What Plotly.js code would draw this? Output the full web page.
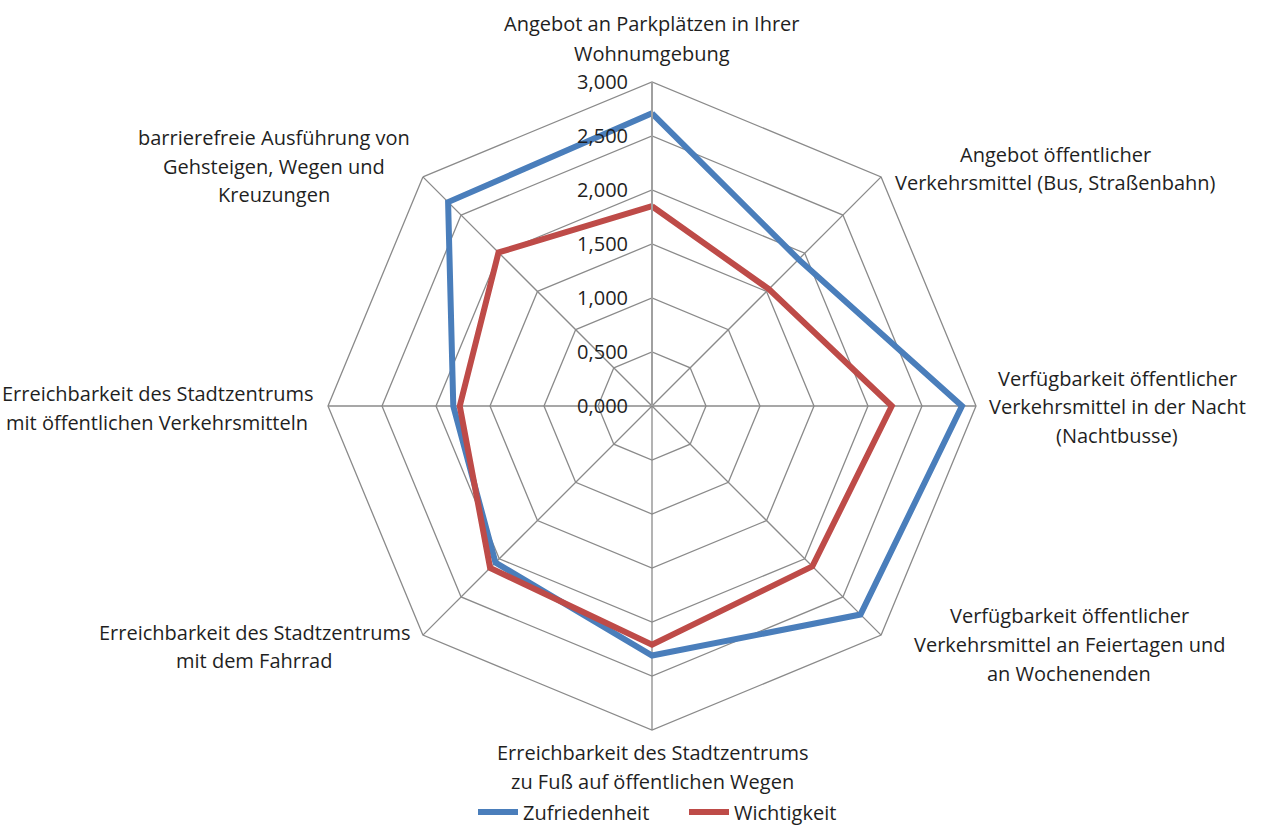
<!DOCTYPE html>
<html>
<head>
<meta charset="utf-8">
<script src="https://cdn.plot.ly/plotly-3.0.1.min.js"></script>
<style>html,body{margin:0;padding:0;background:#fff;overflow:hidden;}#chart{width:1262px;height:828px;}</style>
</head>
<body>
<div id="chart"></div>
<script>
// ---- data ----
const categories = [
  "Angebot an Parkplätzen in Ihrer Wohnumgebung",
  "Angebot öffentlicher Verkehrsmittel (Bus, Straßenbahn)",
  "Verfügbarkeit öffentlicher Verkehrsmittel in der Nacht (Nachtbusse)",
  "Verfügbarkeit öffentlicher Verkehrsmittel an Feiertagen und an Wochenenden",
  "Erreichbarkeit des Stadtzentrums zu Fuß auf öffentlichen Wegen",
  "Erreichbarkeit des Stadtzentrums mit dem Fahrrad",
  "Erreichbarkeit des Stadtzentrums mit öffentlichen Verkehrsmitteln",
  "barrierefreie Ausführung von Gehsteigen, Wegen und Kreuzungen"
];
const labelLines = [
  ["Angebot an Parkplätzen in Ihrer", "Wohnumgebung"],
  ["Angebot öffentlicher", "Verkehrsmittel (Bus, Straßenbahn)"],
  ["Verfügbarkeit öffentlicher", "Verkehrsmittel in der Nacht", "(Nachtbusse)"],
  ["Verfügbarkeit öffentlicher", "Verkehrsmittel an Feiertagen und", "an Wochenenden"],
  ["Erreichbarkeit des Stadtzentrums", "zu Fuß auf öffentlichen Wegen"],
  ["Erreichbarkeit des Stadtzentrums", "mit dem Fahrrad"],
  ["Erreichbarkeit des Stadtzentrums", "mit öffentlichen Verkehrsmitteln"],
  ["barrierefreie Ausführung von", "Gehsteigen, Wegen und", "Kreuzungen"]
];
const seriesNames = ["Zufriedenheit", "Wichtigkeit"];
const zufriedenheit = [2.71, 1.92, 2.87, 2.73, 2.31, 2.05, 1.84, 2.67];
const wichtigkeit   = [1.85, 1.53, 2.22, 2.10, 2.21, 2.12, 1.78, 2.01];

// ---- layout constants (pixel positions of category labels: centre x, first line y, line step) ----
const W = 1262, H = 828;
const labelPos = [
  [652, 23, 30],
  [1055, 155, 28],
  [1117, 378, 28.5],
  [1069, 615, 29],
  [652, 752, 29],
  [254, 632, 28],
  [157, 393, 29],
  [274, 138, 28.5]
];

function closed(a){ return a.concat([a[0]]); }
const theta = closed(categories);

const traces = [
  {type:'scatterpolar', mode:'lines', name:seriesNames[0], r:closed(zufriedenheit), theta:theta,
   line:{color:'#4A7EBB', width:6, shape:'linear'}, hoverinfo:'skip'},
  {type:'scatterpolar', mode:'lines', name:seriesNames[1], r:closed(wichtigkeit), theta:theta,
   line:{color:'#BE4B48', width:6, shape:'linear'}, hoverinfo:'skip'}
];

const FONT = 'Open Sans, sans-serif';
const TXT = '#1f1f1f';
const annotations = [];
labelLines.forEach((lines, i) => {
  const [cx, y0, step] = labelPos[i];
  lines.forEach((t, j) => {
    annotations.push({
      xref:'paper', yref:'paper', x: cx / W, y: 1 - (y0 + j*step) / H,
      xanchor:'center', yanchor:'middle', showarrow:false, text:t,
      font:{family:FONT, size:20, color:TXT}
    });
  });
});

const cx = 652, cy = 406, R = 324;
const layout = {
  width: W, height: H,
  margin:{l:0, r:0, t:0, b:0, autoexpand:false},
  paper_bgcolor:'#fff',
  separators: ',.',
  font:{family:FONT, size:20, color:TXT},
  showlegend:true,
  legend:{orientation:'h', x: 473 / W, xanchor:'left', y: 1 - 812 / H, yanchor:'middle',
          itemwidth:40, entrywidth:156, entrywidthmode:'pixels',
          font:{size:20, color:TXT}, bgcolor:'rgba(0,0,0,0)', tracegroupgap:0},
  polar:{
    domain:{x:[(cx - R)/W, (cx + R)/W], y:[(H - cy - R)/H, (H - cy + R)/H]},
    bgcolor:'rgba(0,0,0,0)',
    gridshape:'linear',
    radialaxis:{range:[0,3], tick0:0, dtick:0.5, tickformat:'.3f', angle:90, side:'counterclockwise',
                tickangle:90, showline:true, linecolor:'#a0a0a0', linewidth:2,
                gridcolor:'#8a8a8a', gridwidth:1.3, ticks:'outside', ticklen:16, tickcolor:'rgba(0,0,0,0)',
                tickfont:{size:20, color:TXT}},
    angularaxis:{type:'category', rotation:90, direction:'clockwise', showticklabels:false, ticks:'',
                 showline:true, linecolor:'#8a8a8a', linewidth:1.3, gridcolor:'#8a8a8a', gridwidth:1.3}
  },
  annotations: annotations
};

Plotly.newPlot('chart', traces, layout, {displayModeBar:false, staticPlot:true});
</script>
</body>
</html>
